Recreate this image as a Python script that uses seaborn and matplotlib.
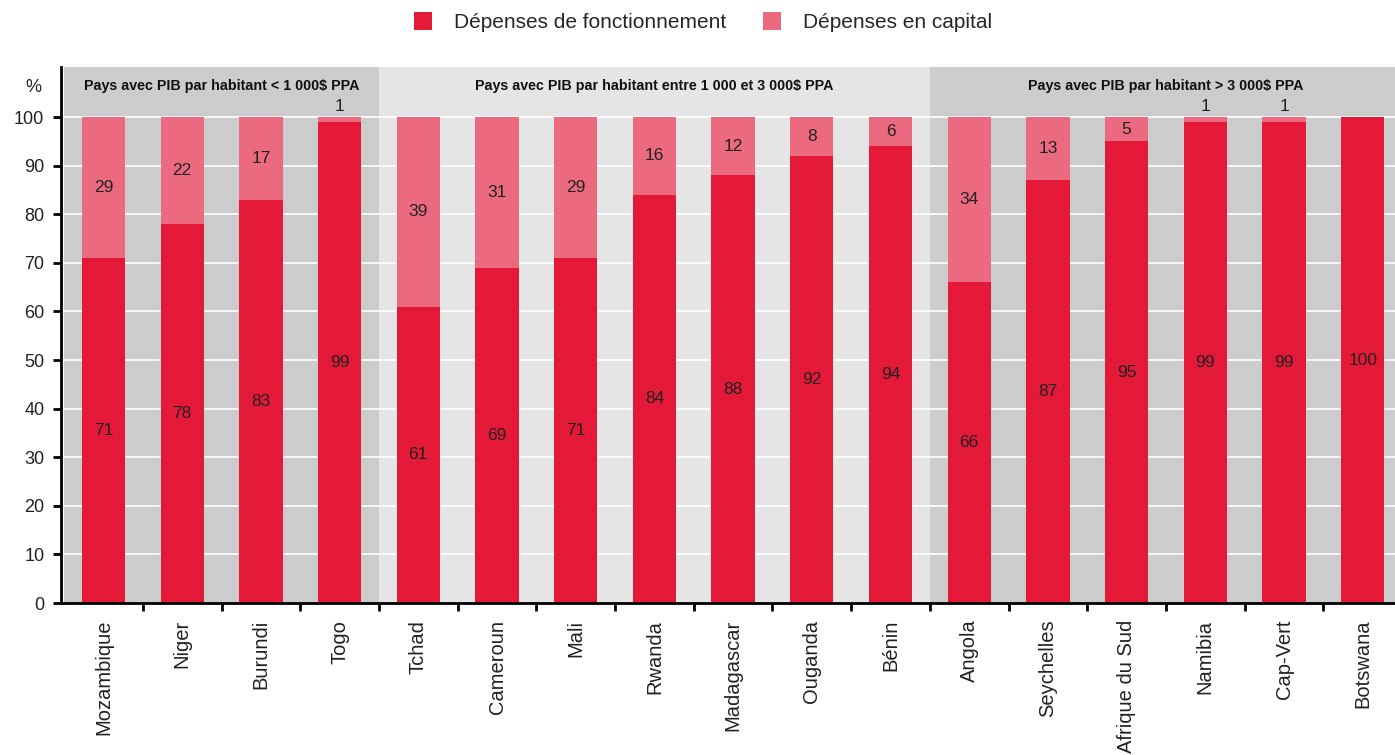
import matplotlib
matplotlib.use("Agg")
import matplotlib.pyplot as plt
import seaborn as sns
import pandas as pd
from matplotlib.lines import Line2D

countries = ["Mozambique", "Niger", "Burundi", "Togo", "Tchad", "Cameroun", "Mali",
             "Rwanda", "Madagascar", "Ouganda", "Bénin", "Angola", "Seychelles",
             "Afrique du Sud", "Namibia", "Cap-Vert", "Botswana"]
fonctionnement = [71, 78, 83, 99, 61, 69, 71, 84, 88, 92, 94, 66, 87, 95, 99, 99, 100]
capital = [29, 22, 17, 1, 39, 31, 29, 16, 12, 8, 6, 34, 13, 5, 1, 1, 0]
groups = ["Pays avec PIB par habitant < 1 000$ PPA",
          "Pays avec PIB par habitant entre 1 000 et 3 000$ PPA",
          "Pays avec PIB par habitant > 3 000$ PPA"]
group_sizes = [4, 7, 6]
series_names = ["Dépenses de fonctionnement", "Dépenses en capital"]

RED = "#e31937"
PINK = "#ec6a7f"
DARK_BG = "#cccccc"
LIGHT_BG = "#e5e5e5"

sns.set_style("white")
plt.rcParams["font.family"] = ["Liberation Sans", "DejaVu Sans"]

df = pd.DataFrame({"pays": countries, "fonct": fonctionnement, "cap": capital})
df["total"] = df["fonct"] + df["cap"]

fig = plt.figure(figsize=(13.95, 7.55), dpi=100)
ax = fig.add_axes([61 / 1395, 1 - 603 / 755, 1 - 61 / 1395, (603 - 67) / 755])

# group backgrounds
bg_colors = [DARK_BG, LIGHT_BG, DARK_BG]
pos = 0
for g, n, c in zip(groups, group_sizes, bg_colors):
    left = pos - 0.5
    right = pos + n - 0.5
    ax.axvspan(max(left, -0.6), right + (0.6 if pos + n == len(countries) else 0), color=c, zorder=0, lw=0)
    ax.text((left + right) / 2, 106.4, g, ha="center", va="center", fontsize=10.3,
            fontweight="bold", color="#111111", zorder=5)
    pos += n

for yv in range(10, 101, 10):
    ax.axhline(yv, color="white", lw=1.2, zorder=1)

sns.barplot(data=df, x="pays", y="total", color=PINK, width=0.55, ax=ax,
            saturation=1, zorder=2, order=countries, linewidth=0, edgecolor="none")
sns.barplot(data=df, x="pays", y="fonct", color=RED, width=0.55, ax=ax,
            saturation=1, zorder=3, order=countries, linewidth=0, edgecolor="none")

for i, (f, c) in enumerate(zip(fonctionnement, capital)):
    ax.text(i, f / 2, str(f), ha="center", va="center", fontsize=12.5, color="#222222", zorder=6)
    if c >= 3:
        ax.text(i, f + c / 2, str(c), ha="center", va="center", fontsize=12.5, color="#222222", zorder=6)
    elif c > 0:
        ax.text(i, f + c + 0.6, str(c), ha="center", va="bottom", fontsize=12.5, color="#222222", zorder=6)

ax.set_xlim(-0.54, 16.41)
ax.set_ylim(0, 110.3)
ax.set_yticks(range(0, 101, 10))
ax.set_yticklabels([str(v) for v in range(0, 101, 10)], fontsize=13, color="#222222")
ax.set_xticks(range(len(countries)))
ax.set_xticklabels(countries, rotation=90, fontsize=14.5, color="#222222")
ax.set_xticks([i + 0.5 for i in range(len(countries) - 1)], minor=True)
ax.tick_params(axis="x", which="major", bottom=True, length=0, pad=12)
ax.tick_params(axis="x", which="minor", bottom=True, length=6, width=2, color="black", direction="out")
ax.tick_params(axis="y", which="major", left=True, length=6, width=2, color="black", direction="out", pad=6)
ax.set_xlabel("")
ax.set_ylabel("")
for s in ["top", "right"]:
    ax.spines[s].set_visible(False)
for s in ["left", "bottom"]:
    ax.spines[s].set_linewidth(2)
    ax.spines[s].set_color("black")
    ax.spines[s].set_zorder(7)

fig.text(33 / 1395, 1 - 88 / 755, "%", ha="center", va="center", fontsize=13, color="#222222")

handles = [Line2D([], [], marker="s", linestyle="none", markersize=12.5, markerfacecolor=RED, markeredgewidth=0),
           Line2D([], [], marker="s", linestyle="none", markersize=12.5, markerfacecolor=PINK, markeredgewidth=0)]
fig.legend(handles, series_names, loc="center", bbox_to_anchor=(0.5035, 1 - 23 / 755), ncol=2,
           frameon=False, fontsize=15, handletextpad=1.0, columnspacing=1.7, handlelength=1.0)

fig.savefig("out.png", dpi=100)
